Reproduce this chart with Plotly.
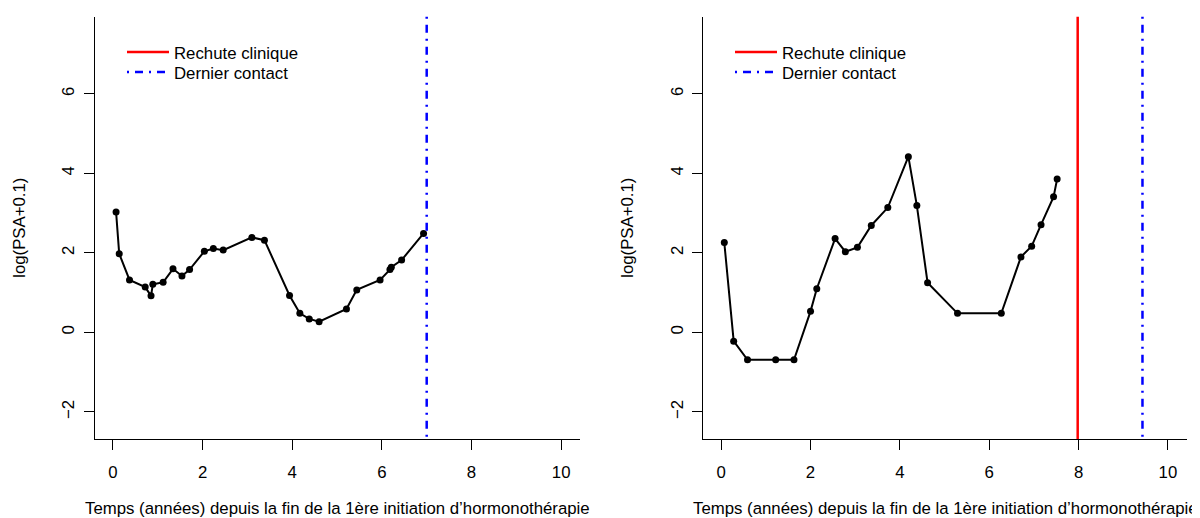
import plotly.graph_objects as go

# ---- data ----
t_left = [0.07, 0.14, 0.37, 0.72, 0.85, 0.89, 1.12, 1.34, 1.54, 1.71, 2.04, 2.24, 2.46,
          3.10, 3.38, 3.94, 4.17, 4.38, 4.60, 5.21, 5.44, 5.96, 6.18, 6.21, 6.44, 6.93]
y_left = [3.03, 1.98, 1.32, 1.14, 0.92, 1.21, 1.26, 1.60, 1.42, 1.58, 2.04, 2.11, 2.07,
          2.39, 2.32, 0.93, 0.48, 0.34, 0.27, 0.59, 1.07, 1.32, 1.58, 1.64, 1.82, 2.49]

t_right = [0.07, 0.28, 0.59, 1.22, 1.63, 2.00, 2.14, 2.55, 2.78, 3.05, 3.36, 3.73, 4.19,
           4.38, 4.62, 5.29, 6.27, 6.71, 6.95, 7.16, 7.44, 7.52]
y_right = [2.26, -0.22, -0.69, -0.69, -0.69, 0.53, 1.10, 2.36, 2.03, 2.14, 2.69, 3.14, 4.42,
           3.19, 1.25, 0.48, 0.48, 1.90, 2.17, 2.71, 3.41, 3.86]

rechute_left = []          # no clinical relapse in left panel
contact_left = [7.0]
rechute_right = [7.98]
contact_right = [9.43]

x_ticks = [0, 2, 4, 6, 8, 10]
y_ticks = [-2, 0, 2, 4, 6]
x_title = "Temps (années) depuis la fin de la 1ère initiation d’hormonothérapie"
y_title = "log(PSA+0.1)"
legend_labels = ["Rechute clinique", "Dernier contact"]

# ---- styling ----
# the page body has an 8px margin, so the figure is drawn 8px smaller and
# every position below is given in page pixels and converted.
OFF = 8
W, H = 1200 - OFF, 518 - OFF


def px(xp):
    return (xp - OFF) / W


def py(yp):
    return (H - (yp - OFF)) / H


FONT = dict(family="Liberation Sans, Arial, sans-serif", size=16.8, color="black")
DOTDASH = "2px,6px,8px,6px"
RED = "#FF0000"
BLUE = "#0000FF"

x_dom = [[px(95), px(580)], [px(703.3), px(1186.7)]]
y_dom = [py(439), py(16.7)]

fig = go.Figure()

panels = [
    (t_left, y_left, rechute_left, contact_left, "x", "y", ("legend", "legend2"), 0),
    (t_right, y_right, rechute_right, contact_right, "x2", "y2", ("legend3", "legend4"), 608),
]

for t, y, rech, cont, xa, ya, legs, dx in panels:
    fig.add_trace(go.Scatter(
        x=t, y=y, mode="lines+markers",
        line=dict(color="black", width=2),
        marker=dict(color="black", size=7),
        showlegend=False, xaxis=xa, yaxis=ya, hoverinfo="x+y"))
    fig.add_trace(go.Scatter(
        x=[None], y=[None], mode="lines", name=legend_labels[0],
        line=dict(color=RED, width=2.5), legend=legs[0], xaxis=xa, yaxis=ya))
    fig.add_trace(go.Scatter(
        x=[None], y=[None], mode="lines", name=legend_labels[1],
        line=dict(color=BLUE, width=2.5, dash=DOTDASH), legend=legs[1], xaxis=xa, yaxis=ya))
    for v in rech:
        fig.add_shape(type="line", xref=xa, yref=f"{ya} domain",
                      x0=v, x1=v, y0=1, y1=0, line=dict(color=RED, width=2.5))
    for v in cont:
        fig.add_shape(type="line", xref=xa, yref=f"{ya} domain",
                      x0=v, x1=v, y0=1, y1=0,
                      line=dict(color=BLUE, width=2.5, dash=DOTDASH))

axis_common = dict(
    showline=True, linecolor="black", linewidth=1,
    ticks="outside", ticklen=10, tickwidth=1, tickcolor="black",
    showgrid=False, zeroline=False, tickfont=FONT,
)

layout = dict(
    width=W, height=H, autosize=False,
    margin=dict(l=0, r=0, t=0, b=0),
    paper_bgcolor="white", plot_bgcolor="white",
    font=FONT,
    showlegend=True,
)

for i, suffix in enumerate(["", "2"]):
    layout["xaxis" + suffix] = dict(
        axis_common, domain=x_dom[i], range=[-0.40, 10.42],
        tickvals=x_ticks, ticktext=[str(v) for v in x_ticks],
        anchor="y" + suffix, ticklabelstandoff=8)
    layout["yaxis" + suffix] = dict(
        axis_common, domain=y_dom, range=[-2.68, 7.94],
        tickvals=y_ticks, ticktext=[str(v).replace("-", "\u2212") for v in y_ticks],
        tickangle=-90, anchor="x" + suffix, ticklabelstandoff=3)

leg_common = dict(
    xanchor="left", yanchor="top", bgcolor="rgba(0,0,0,0)", borderwidth=0,
    font=FONT, itemwidth=42, tracegroupgap=0, itemclick=False, itemdoubleclick=False,
)
for k, (name, dx) in enumerate([("legend", 0), ("legend2", 0), ("legend3", 608), ("legend4", 608)]):
    row_top = 34.7 + 20 * (k % 2)
    layout[name] = dict(leg_common, x=px(122 + dx), y=py(row_top))

annotations = []
for i in range(2):
    xc = (x_dom[i][0] + x_dom[i][1]) / 2
    annotations.append(dict(
        text=x_title, xref="paper", yref="paper", x=xc, y=py(508),
        xanchor="center", yanchor="middle", showarrow=False, font=FONT))
    annotations.append(dict(
        text=y_title, xref="paper", yref="paper", x=px(20 + 608 * i),
        y=(y_dom[0] + y_dom[1]) / 2, textangle=-90,
        xanchor="center", yanchor="middle", showarrow=False, font=FONT))
layout["annotations"] = annotations

fig.update_layout(**layout)
fig.write_html("out.html")
